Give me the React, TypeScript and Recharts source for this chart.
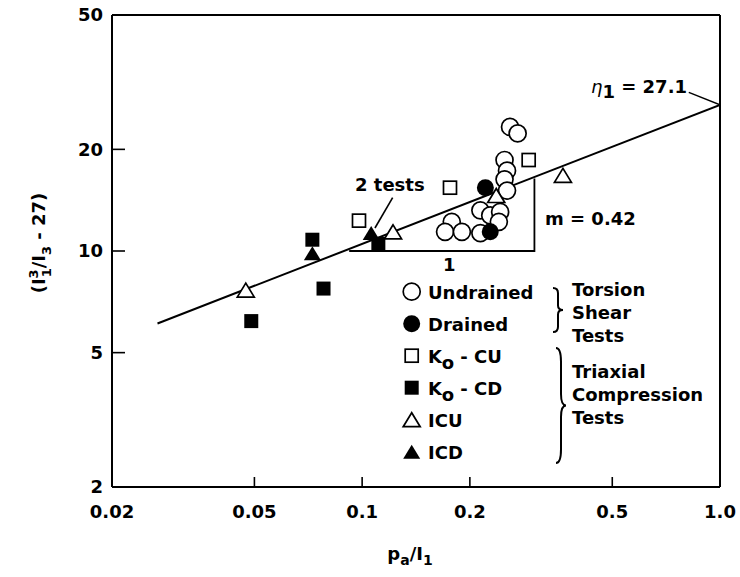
import React from "react";
import { ScatterChart, Scatter, XAxis, YAxis, Customized } from "recharts";

const X_TICKS = [0.02, 0.05, 0.1, 0.2, 0.5, 1.0];
const X_INNER_TICKS = [0.05, 0.1, 0.2, 0.5];
const Y_TICKS = [2, 5, 10, 20, 50];
const Y_INNER_TICKS = [5, 10, 20];

// torsion shear tests
const UNDRAINED = [
  { x: 0.259, y: 23.3 }, { x: 0.272, y: 22.3 }, { x: 0.25, y: 18.6 }, { x: 0.254, y: 17.3 },
  { x: 0.25, y: 16.3 }, { x: 0.214, y: 13.2 }, { x: 0.228, y: 12.75 }, { x: 0.243, y: 13.05 },
  { x: 0.241, y: 12.2 }, { x: 0.178, y: 12.2 }, { x: 0.1705, y: 11.4 }, { x: 0.19, y: 11.4 },
  { x: 0.214, y: 11.3 }, { x: 0.254, y: 15.1 },
];
const DRAINED = [{ x: 0.221, y: 15.4 }, { x: 0.228, y: 11.4 }];

// triaxial compression tests
const KO_CU = [{ x: 0.098, y: 12.3 }, { x: 0.176, y: 15.4 }, { x: 0.292, y: 18.6 }];
const KO_CD = [{ x: 0.0726, y: 10.8 }, { x: 0.078, y: 7.74 }, { x: 0.049, y: 6.2 }, { x: 0.111, y: 10.5 }];
const ICU = [{ x: 0.0473, y: 7.66 }, { x: 0.122, y: 11.4 }, { x: 0.237, y: 14.6 }, { x: 0.364, y: 16.75 }];
const ICD = [{ x: 0.0726, y: 9.85 }, { x: 0.106, y: 11.3 }];

// fitted line, slope triangle and leader lines
const FIT_LINE = [{ x: 0.0268, y: 6.1 }, { x: 1.0, y: 27.1 }];
const SLOPE_TRIANGLE = [{ x: 0.092, y: 10 }, { x: 0.303, y: 10 }, { x: 0.303, y: 16.4 }];
const ETA_LEADER = [{ x: 0.818, y: 29.5 }, { x: 1.0, y: 27.1 }];
const TESTS_LEADER = [{ x: 0.1217, y: 14.4 }, { x: 0.1086, y: 11.7 }];

const FONT = "DejaVu Sans";

const openCircle = (p: any, r = 8.5) => <circle cx={p.cx} cy={p.cy} r={r} fill="#fff" stroke="#000" strokeWidth={1.7} />;
const filledCircle = (p: any, r = 8.5) => <circle cx={p.cx} cy={p.cy} r={r} fill="#000" />;
const openSquare = (p: any, s = 13) => (
  <rect x={p.cx - s / 2} y={p.cy - s / 2} width={s} height={s} fill="#fff" stroke="#000" strokeWidth={1.7} />
);
const filledSquare = (p: any, s = 14) => <rect x={p.cx - s / 2} y={p.cy - s / 2} width={s} height={s} fill="#000" />;
const triPoints = (cx: number, cy: number, w: number, h: number) =>
  `${cx},${cy - h / 2} ${cx - w / 2},${cy + h / 2} ${cx + w / 2},${cy + h / 2}`;
const openTriangle = (p: any, w = 17, h = 14) => (
  <polygon points={triPoints(p.cx, p.cy, w, h)} fill="#fff" stroke="#000" strokeWidth={1.7} />
);
const filledTriangle = (p: any, w = 17, h = 14) => <polygon points={triPoints(p.cx, p.cy, w, h)} fill="#000" />;
const noShape = () => <g />;

const brace = (x: number, y1: number, y2: number, w: number) => {
  const ym = (y1 + y2) / 2;
  const h = y2 - y1;
  const xm = x + w / 2;
  return `M ${x} ${y1} Q ${xm} ${y1} ${xm} ${y1 + h * 0.12} L ${xm} ${ym - h * 0.1} Q ${xm} ${ym} ${x + w} ${ym} Q ${xm} ${ym} ${xm} ${ym + h * 0.1} L ${xm} ${y2 - h * 0.12} Q ${xm} ${y2} ${x} ${y2}`;
};

const LEGEND_ROWS = [
  { icon: openCircle, label: "Undrained" },
  { icon: filledCircle, label: "Drained" },
  { icon: openSquare, label: "K", sub: "o", rest: " - CU" },
  { icon: filledSquare, label: "K", sub: "o", rest: " - CD" },
  { icon: openTriangle, label: "ICU" },
  { icon: filledTriangle, label: "ICD" },
];

function Annotations() {
  const txt = { fontFamily: FONT, fontSize: 18, fontWeight: "bold", fill: "#000" } as const;
  return (
    <g>
      {/* y axis title */}
      <text {...txt} transform="translate(45,243) rotate(-90)" textAnchor="middle">
        (I<tspan dy={-7} fontSize={13}>3</tspan>
        <tspan dx={-8} dy={13} fontSize={13}>1</tspan>
        <tspan dy={-6}>/I</tspan>
        <tspan dy={6} fontSize={13}>3</tspan>
        <tspan dy={-6}> - 27)</tspan>
      </text>
      {/* x axis title */}
      <text {...txt} x={410} y={560} textAnchor="middle">
        p<tspan dy={5} fontSize={14}>a</tspan>
        <tspan dy={-5}>/I</tspan>
        <tspan dy={5} fontSize={14}>1</tspan>
      </text>

      <text {...txt} x={687} y={93} textAnchor="end">
        <tspan fontStyle="italic" fontWeight="normal">η</tspan>
        <tspan dy={5}>1</tspan>
        <tspan dy={-5}> = 27.1</tspan>
      </text>
      <text {...txt} x={355} y={191}>2 tests</text>
      <text {...txt} x={545} y={225}>m = 0.42</text>
      <text {...txt} x={443} y={271}>1</text>

      {LEGEND_ROWS.map((r, i) => {
        const cy = 291.7 + i * 32;
        return (
          <g key={r.label + i}>
            {r.icon({ cx: 411.7, cy } as any, undefined as any)}
            <text {...txt} x={428} y={cy + 7}>
              {r.label}
              {r.sub && <tspan dy={6}>{r.sub}</tspan>}
              {r.rest && <tspan dy={-6}>{r.rest}</tspan>}
            </text>
          </g>
        );
      })}

      <path d={brace(553, 288, 332, 10)} fill="none" stroke="#000" strokeWidth={2} />
      <path d={brace(556, 348, 463, 10)} fill="none" stroke="#000" strokeWidth={2} />
      <text {...txt} x={572} y={296}>Torsion</text>
      <text {...txt} x={572} y={319}>Shear</text>
      <text {...txt} x={572} y={342}>Tests</text>
      <text {...txt} x={572} y={378}>Triaxial</text>
      <text {...txt} x={572} y={401}>Compression</text>
      <text {...txt} x={572} y={424}>Tests</text>
    </g>
  );
}

const axisLine = { stroke: "#000", strokeWidth: 2 };
const tickLine = { stroke: "#000", strokeWidth: 1.6 };
const tickFont = { fontFamily: FONT, fontSize: 18, fontWeight: "bold", fill: "#000" };

export default function App() {
  return (
    <div style={{ position: "absolute", left: 0, top: 0, background: "#fff" }}>
      <ScatterChart width={740} height={577} margin={{ top: 0, right: 0, bottom: 0, left: 0 }}>
        <XAxis
          type="number"
          dataKey="x"
          scale="log"
          domain={[0.02, 1]}
          allowDataOverflow
          ticks={X_TICKS}
          tickFormatter={(v) => (v === 1 ? "1.0" : String(v))}
          height={90}
          axisLine={axisLine}
          tickLine={tickLine}
          tickSize={-10}
          tickMargin={28}
          tick={tickFont}
          interval={0}
        />
        <XAxis
          xAxisId="top"
          orientation="top"
          type="number"
          scale="log"
          domain={[0.02, 1]}
          allowDataOverflow
          ticks={X_INNER_TICKS}
          height={15}
          axisLine={axisLine}
          tickLine={tickLine}
          tickSize={-10}
          tick={false}
          interval={0}
        />
        <YAxis
          type="number"
          dataKey="y"
          scale="log"
          domain={[2, 50]}
          allowDataOverflow
          ticks={Y_TICKS}
          width={112}
          axisLine={axisLine}
          tickLine={tickLine}
          tickSize={-13}
          tickMargin={22}
          tick={tickFont}
          interval={0}
        />
        <YAxis
          yAxisId="right"
          orientation="right"
          type="number"
          scale="log"
          domain={[2, 50]}
          allowDataOverflow
          ticks={Y_INNER_TICKS}
          width={20}
          axisLine={axisLine}
          tickLine={tickLine}
          tickSize={-10}
          tick={false}
          interval={0}
        />
        <Scatter data={FIT_LINE} line={{ stroke: "#000", strokeWidth: 2 }} shape={noShape} isAnimationActive={false} />
        <Scatter data={SLOPE_TRIANGLE} line={{ stroke: "#000", strokeWidth: 1.8 }} shape={noShape} isAnimationActive={false} />
        <Scatter data={ETA_LEADER} line={{ stroke: "#000", strokeWidth: 1.6 }} shape={noShape} isAnimationActive={false} />
        <Scatter data={TESTS_LEADER} line={{ stroke: "#000", strokeWidth: 1.6 }} shape={noShape} isAnimationActive={false} />
        <Scatter name="Undrained" data={UNDRAINED} shape={(p: any) => openCircle(p)} isAnimationActive={false} />
        <Scatter name="Drained" data={DRAINED} shape={(p: any) => filledCircle(p)} isAnimationActive={false} />
        <Scatter name="Ko - CU" data={KO_CU} shape={(p: any) => openSquare(p)} isAnimationActive={false} />
        <Scatter name="Ko - CD" data={KO_CD} shape={(p: any) => filledSquare(p)} isAnimationActive={false} />
        <Scatter name="ICU" data={ICU} shape={(p: any) => openTriangle(p)} isAnimationActive={false} />
        <Scatter name="ICD" data={ICD} shape={(p: any) => filledTriangle(p)} isAnimationActive={false} />
        <Customized component={Annotations} />
      </ScatterChart>
    </div>
  );
}
